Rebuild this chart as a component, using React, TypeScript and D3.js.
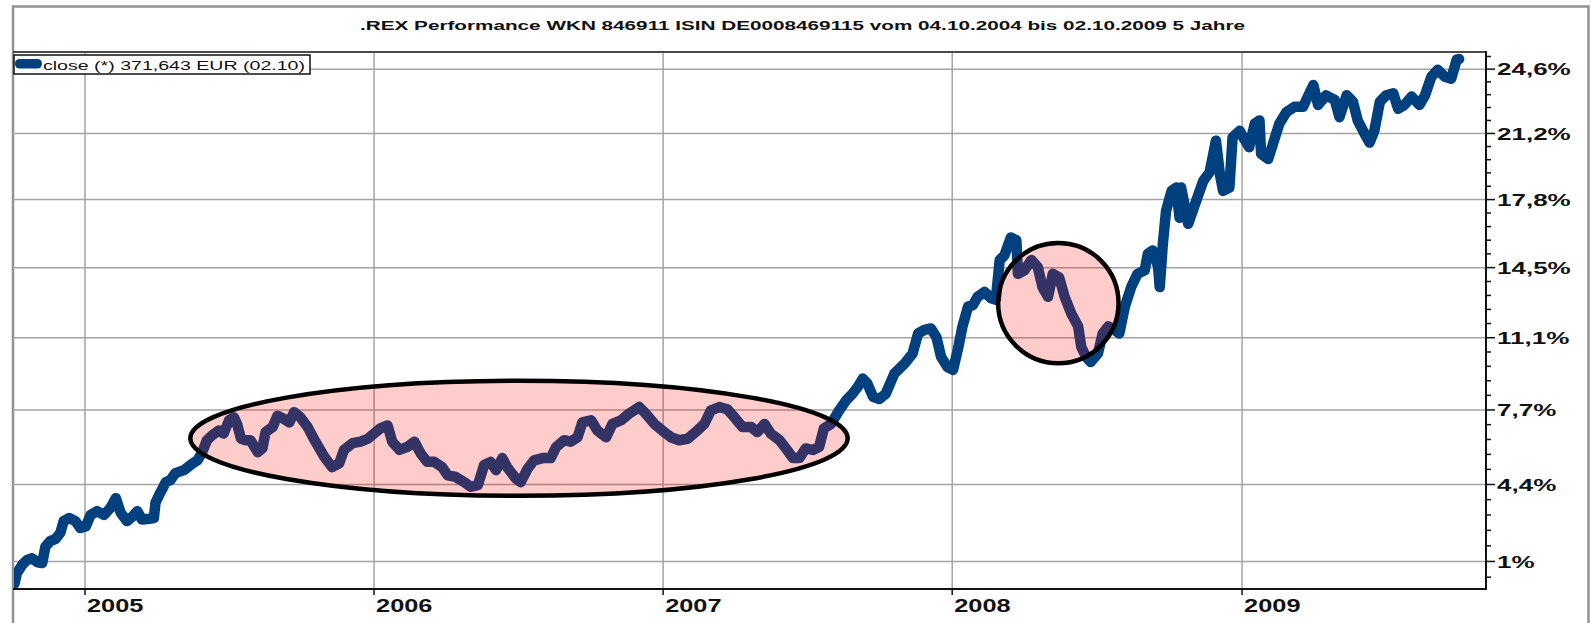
import * as d3 from "d3";
import { useEffect, useRef } from "react";

const title =
  ".REX Performance WKN 846911 ISIN DE0008469115 vom 04.10.2004 bis 02.10.2009 5 Jahre";
const legendLabel = "close (*) 371,643 EUR (02.10)";

// series: days since 04.10.2004 and index close in EUR
const startDate = new Date(2004, 9, 4);
const axisEndDate = new Date(2009, 10, 5);

const dayOffsets = [
  0, 3, 10, 16, 22, 29, 35, 39, 45, 52, 58, 62, 69, 77, 83, 90, 96, 104, 113, 121,
  128, 134, 142, 149, 155, 161, 170, 176, 178, 184, 191, 197, 203, 214, 225, 231,
  237, 243, 250, 258, 264, 271, 277, 281, 286, 292, 298, 307, 313, 317, 326, 332,
  340, 347, 353, 361, 370,
  380, 391, 401, 410, 416, 427, 437, 446, 454, 462, 471, 477, 486, 496, 505, 513,
  521, 530, 540, 547, 557, 568, 576, 585, 593, 601, 608, 616, 622, 633, 639, 648,
  656, 667, 677, 684, 694, 702, 711, 717, 728, 736,
  747, 755, 766, 776, 789, 797, 808, 818, 829, 839, 850, 860, 871, 879, 890, 900,
  909, 919, 930, 938, 947, 955, 966, 974, 983, 991, 999, 1008, 1016, 1022, 1031,
  1041, 1050, 1058, 1065, 1071, 1077, 1084, 1092, 1100,
  1111, 1124, 1134, 1141, 1149, 1157, 1164, 1170, 1178, 1185, 1191, 1197, 1204,
  1210, 1216, 1225, 1233, 1239, 1244, 1250, 1258, 1265, 1267, 1275, 1284, 1292,
  1298, 1305, 1311, 1319, 1326, 1334, 1343, 1347, 1353, 1359, 1368, 1374, 1381,
  1389, 1395, 1402, 1410, 1418, 1427, 1431, 1437, 1444, 1446, 1450, 1454, 1461,
  1467, 1471,
  1473, 1482, 1492, 1501, 1509, 1517, 1522, 1526, 1534, 1538, 1547, 1553, 1559,
  1566, 1572, 1574, 1583, 1589, 1597, 1606, 1616, 1627, 1633, 1640, 1646, 1656,
  1667, 1673, 1682, 1690, 1696, 1705, 1711, 1717, 1724, 1732, 1741, 1747, 1755,
  1764, 1774, 1781, 1789, 1797, 1806, 1814, 1821, 1824,
];

const closeValues = [
  297.2, 298.5, 299.6, 300.2, 300.4, 299.9, 299.8, 301.9, 302.6, 302.9, 303.7,
  305.2, 305.6, 305.2, 304.3, 304.5, 306.0, 306.5, 306.0, 306.9, 308.2, 306.3,
  305.2, 305.8, 306.5, 305.4, 305.5, 305.6, 307.6, 308.9, 310.3, 310.6, 311.5,
  311.9, 312.8, 313.2, 314.3, 315.9, 316.6, 317.2, 316.8, 318.6, 319.0, 318.1,
  316.1, 315.9, 315.9, 314.3, 314.8, 317.0, 317.7, 319.2, 318.8, 318.3, 319.7,
  319.0, 317.7,
  315.7, 313.7, 312.3, 312.8, 314.6, 315.5, 315.7, 316.1, 316.8, 317.5, 317.9,
  315.7, 314.6, 315.0, 315.7, 314.1, 313.0, 313.0, 312.3, 311.2, 311.0, 310.3,
  309.7, 309.9, 312.6, 313.0, 311.9, 313.5, 312.3, 310.8, 310.3, 312.1, 313.2,
  313.5, 313.5, 315.0, 315.9, 315.7, 316.3, 318.3, 318.6, 317.2,
  316.3, 318.1, 318.6, 319.5, 320.4, 319.5, 318.1, 317.2, 316.3, 315.9, 316.1,
  317.0, 318.1, 319.9, 320.4, 320.1, 319.0, 317.7, 317.7, 317.0, 318.1, 316.8,
  315.9, 314.8, 313.5, 313.5, 314.8, 314.6, 315.0, 317.5, 318.1, 319.9, 321.3,
  322.2, 323.2, 324.3, 323.6, 321.8, 321.5, 322.2,
  325.0, 326.4, 327.8, 330.6, 331.1, 331.3, 330.1, 327.3, 325.9, 325.5, 328.3,
  331.6, 334.4, 334.6, 335.8, 336.5, 335.6, 335.4, 341.1, 341.8, 344.4, 344.0,
  339.1, 339.6, 341.1, 340.1, 337.2, 335.8, 339.1, 338.6, 335.8, 333.5, 331.6,
  328.7, 327.3, 326.6, 327.8, 330.6, 331.6, 331.1, 330.6, 334.4, 337.2, 339.1,
  339.6, 342.0, 342.5, 340.1, 337.2, 343.5, 348.3, 351.3, 351.8, 347.3,
  351.8, 346.4, 349.8, 352.8, 354.1, 358.9, 353.8, 351.3, 351.8, 359.4, 360.4,
  359.1, 357.9, 361.5, 362.0, 356.9, 356.1, 358.4, 361.5, 363.3, 364.1, 364.1,
  365.7, 367.5, 364.4, 365.9, 365.2, 362.5, 365.9, 364.9, 362.0, 359.9, 358.6,
  360.4, 364.9, 365.9, 366.2, 363.8, 364.4, 365.7, 364.4, 365.9, 368.8, 369.9,
  368.8, 368.5, 371.5, 371.6,
];

const yearLabels = ["2005", "2006", "2007", "2008", "2009"];
const yTickValues = [300, 310, 320, 330, 340, 350, 360, 370];
const yTickLabels = ["1%", "4,4%", "7,7%", "11,1%", "14,5%", "17,8%", "21,2%", "24,6%"];

// highlighted ranges (dates / index values)
const sidewaysRange = { from: new Date(2005, 4, 14), to: new Date(2007, 7, 22), high: 324, low: 308.5 };
const dipMarker = { center: new Date(2008, 4, 14), value: 334.9, radiusDays: 76 };

const FONT = "'Liberation Sans', Arial, Helvetica, sans-serif";
const BLUE = "#00407f";

const App = () => {
  const ref = useRef<SVGSVGElement | null>(null);

  useEffect(() => {
    if (!ref.current) return;
    const svg = d3.select(ref.current);
    svg.selectAll("*").remove();

    const left = 14.5;
    const right = 1486;
    const top = 52.7;
    const bottom = 589;

    const x = d3.scaleTime().domain([startDate, axisEndDate]).range([left, right]);
    const y = d3.scaleLog().domain([296.5, 372.6]).range([bottom, top]);

    const points: [Date, number][] = dayOffsets.map((d, i) => [
      d3.timeDay.offset(startDate, d),
      closeValues[i],
    ]);

    svg.append("rect").attr("width", 1591).attr("height", 623).attr("fill", "#fff");

    // outer frame
    svg
      .append("rect")
      .attr("x", 13)
      .attr("y", 6.5)
      .attr("width", 1575.5)
      .attr("height", 700)
      .attr("fill", "none")
      .attr("stroke", "#929292")
      .attr("stroke-width", 2.5);

    svg
      .append("text")
      .attr("x", 360)
      .attr("y", 30)
      .attr("textLength", 885)
      .attr("lengthAdjust", "spacingAndGlyphs")
      .attr("font-family", FONT)
      .attr("font-size", 13.5)
      .attr("font-weight", "bold")
      .attr("fill", "#111")
      .text(title);

    const g = svg.append("g");

    // grid
    g.selectAll("line.hgrid")
      .data(yTickValues)
      .join("line")
      .attr("class", "hgrid")
      .attr("x1", 13)
      .attr("x2", right)
      .attr("y1", (d) => y(d))
      .attr("y2", (d) => y(d))
      .attr("stroke", "#a4a4a4")
      .attr("stroke-width", 1.5);

    const yearDates = yearLabels.map((s) => new Date(+s, 0, 1));
    g.selectAll("line.vgrid")
      .data(yearDates)
      .join("line")
      .attr("class", "vgrid")
      .attr("x1", (d) => x(d))
      .attr("x2", (d) => x(d))
      .attr("y1", top)
      .attr("y2", bottom)
      .attr("stroke", "#a4a4a4")
      .attr("stroke-width", 1.5);

    svg
      .append("clipPath")
      .attr("id", "plotclip")
      .append("rect")
      .attr("x", 14)
      .attr("y", top)
      .attr("width", right - 14)
      .attr("height", bottom - top);

    const line = d3
      .line<[Date, number]>()
      .x((d) => x(d[0]))
      .y((d) => y(d[1]));

    g.append("path")
      .datum(points)
      .attr("clip-path", "url(#plotclip)")
      .attr("fill", "none")
      .attr("stroke", BLUE)
      .attr("stroke-width", 10.5)
      .attr("stroke-linejoin", "round")
      .attr("stroke-linecap", "round")
      .attr("d", line);

    // annotations
    const ex0 = x(sidewaysRange.from);
    const ex1 = x(sidewaysRange.to);
    const ey0 = y(sidewaysRange.high);
    const ey1 = y(sidewaysRange.low);
    g.append("ellipse")
      .attr("cx", (ex0 + ex1) / 2)
      .attr("cy", (ey0 + ey1) / 2)
      .attr("rx", (ex1 - ex0) / 2)
      .attr("ry", (ey1 - ey0) / 2)
      .attr("fill", "rgba(255,0,0,0.2)")
      .attr("stroke", "#000")
      .attr("stroke-width", 4.5);

    const cx = x(dipMarker.center);
    g.append("circle")
      .attr("cx", cx)
      .attr("cy", y(dipMarker.value))
      .attr("r", x(d3.timeDay.offset(dipMarker.center, dipMarker.radiusDays)) - cx)
      .attr("fill", "rgba(255,0,0,0.2)")
      .attr("stroke", "#000")
      .attr("stroke-width", 4.5);

    // plot border / axes
    g.append("line")
      .attr("x1", 13)
      .attr("x2", right)
      .attr("y1", 52)
      .attr("y2", 52)
      .attr("stroke", "#4a4a4a")
      .attr("stroke-width", 2);
    g.append("line")
      .attr("x1", 13)
      .attr("x2", right + 1)
      .attr("y1", bottom)
      .attr("y2", bottom)
      .attr("stroke", "#111")
      .attr("stroke-width", 2);
    g.append("line")
      .attr("x1", right)
      .attr("x2", right)
      .attr("y1", 51)
      .attr("y2", bottom + 1)
      .attr("stroke", "#111")
      .attr("stroke-width", 2);

    // x ticks + labels
    g.selectAll("line.xtick")
      .data(yearDates)
      .join("line")
      .attr("class", "xtick")
      .attr("x1", (d) => x(d))
      .attr("x2", (d) => x(d))
      .attr("y1", bottom)
      .attr("y2", bottom + 6)
      .attr("stroke", "#111")
      .attr("stroke-width", 1.5);

    g.selectAll("text.xlab")
      .data(yearDates)
      .join("text")
      .attr("class", "xlab")
      .attr("transform", (d) => `translate(${x(d) + 2},612) scale(1.45,1)`)
      .attr("font-family", FONT)
      .attr("font-size", 17.5)
      .attr("font-weight", "bold")
      .attr("fill", "#111")
      .text((_, i) => yearLabels[i]);

    // y ticks (major + minor) + labels
    const minor = d3.range(298, 373, 2).filter((v) => v % 10 !== 0);
    g.selectAll("line.yminor")
      .data(minor)
      .join("line")
      .attr("class", "yminor")
      .attr("x1", right)
      .attr("x2", right + 5)
      .attr("y1", (d) => y(d))
      .attr("y2", (d) => y(d))
      .attr("stroke", "#111")
      .attr("stroke-width", 1.5);

    g.selectAll("line.ymajor")
      .data(yTickValues)
      .join("line")
      .attr("class", "ymajor")
      .attr("x1", right)
      .attr("x2", right + 9)
      .attr("y1", (d) => y(d))
      .attr("y2", (d) => y(d))
      .attr("stroke", "#111")
      .attr("stroke-width", 1.5);

    g.selectAll("text.ylab")
      .data(yTickValues)
      .join("text")
      .attr("class", "ylab")
      .attr("transform", (d) => `translate(1497,${y(d) + 6.2}) scale(1.53,1)`)
      .attr("font-family", FONT)
      .attr("font-size", 17)
      .attr("font-weight", "bold")
      .attr("fill", "#111")
      .text((_, i) => yTickLabels[i]);

    // legend
    const lg = svg.append("g");
    lg.append("rect")
      .attr("x", 14)
      .attr("y", 55)
      .attr("width", 296)
      .attr("height", 19)
      .attr("fill", "#fff")
      .attr("stroke", "#111")
      .attr("stroke-width", 1.5);
    lg.append("rect")
      .attr("x", 15)
      .attr("y", 59)
      .attr("width", 27)
      .attr("height", 9.5)
      .attr("rx", 4.5)
      .attr("fill", BLUE);
    lg.append("text")
      .attr("x", 43)
      .attr("y", 69.5)
      .attr("textLength", 262)
      .attr("lengthAdjust", "spacingAndGlyphs")
      .attr("font-family", FONT)
      .attr("font-size", 13)
      .attr("fill", "#111")
      .text(legendLabel);
  }, []);

  return (
    <svg
      ref={ref}
      width={1591}
      height={623}
      style={{ position: "absolute", left: 0, top: 0, display: "block" }}
    ></svg>
  );
};

export default App;
